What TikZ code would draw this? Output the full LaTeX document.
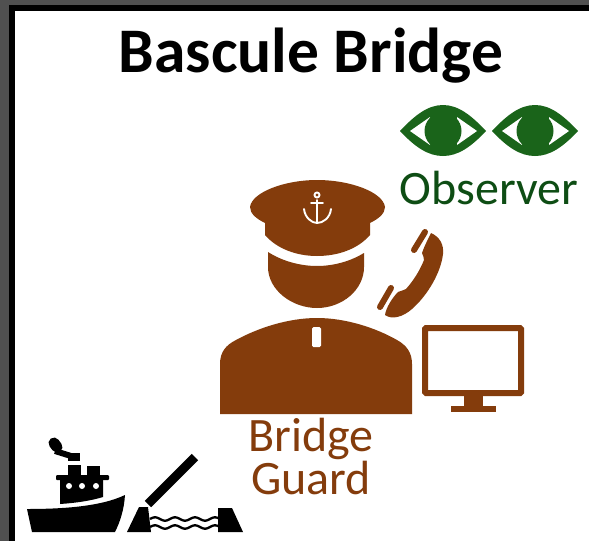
\documentclass[tikz,border=0pt]{standalone}
\usepackage{fontspec}
\setmainfont{Carlito}
\definecolor{guardbrown}{HTML}{843C0C}
\definecolor{eyegreen}{HTML}{1A641A}
\definecolor{obsgreen}{HTML}{0E4D14}
\definecolor{framegray}{HTML}{505050}
\tikzset{
    label text/.style={inner sep=0pt, anchor=base, font=\fontsize{48}{42}\selectfont},
    guard shape/.style={fill=guardbrown, draw=none},
    anchor line/.style={draw=white, line width=1.9pt, line cap=round},
}
\begin{document}
\begin{tikzpicture}[x=1pt,y=-1pt]
    \useasboundingbox (0,0) rectangle (589,541);
    % frame
    \fill[framegray] (0,0) rectangle (589,541);
    \fill[black] (9,5) rectangle (589,541);
    \fill[white] (15,11) rectangle (589,541);
    % texts
    \node[label text, font=\fontsize{63.5}{63.5}\selectfont\bfseries] (title) at (311,72) {Bascule Bridge};
    \node[label text, text=obsgreen] (observer) at (489,204) {Observer};
    \node[label text, text=guardbrown, align=center, anchor=north] (guard) at (311,418) {Bridge\\[1pt]Guard};
    % eyes
    \foreach \dx in {0,92} {
        \begin{scope}[xshift=\dx]
            \fill[eyegreen] (400,131) .. controls (415,115) and (428,105) .. (443,105) .. controls (458,105) and (471,115) .. (486,131) .. controls (471,147) and (458,156) .. (443,156) .. controls (428,156) and (415,147) .. (400,131) -- cycle;
            \fill[white] (410,131) -- (430,117) -- (430,145) -- cycle;
            \fill[white] (477,131) -- (457,117) -- (457,145) -- cycle;
            \fill[eyegreen] (443,131) circle (18.5);
        \end{scope}
    }
    % cap
    \fill[guard shape] (250,207) .. controls (252,192) and (285,180) .. (317,180) .. controls (350,180) and (383,192) .. (385,207) .. controls (385,214) and (378,219) .. (370,223) -- (370,235) .. controls (358,249) and (338,256) .. (317,256) .. controls (297,256) and (277,249) .. (265,235) -- (265,223) .. controls (257,219) and (250,214) .. (250,207) -- cycle;
    % anchor
    \draw[anchor line] (317,200) -- (317,222);
    \draw[anchor line] (304,209) .. controls (305,218) and (312,223) .. (317,223) .. controls (323,223) and (330,218) .. (331,209);
    \draw[anchor line] (311,203) -- (323,203);
    \draw[anchor line] (317,195) circle (2.5);
    % face
    \fill[guard shape] (268,252) .. controls (282,261) and (300,266) .. (317,266) .. controls (334,266) and (351,261) .. (364,253) -- (364,267) .. controls (364,290) and (342,308) .. (317,308) .. controls (292,308) and (268,290) .. (268,267) -- cycle;
    % body
    \fill[guard shape] (220,414) -- (220,364) .. controls (220,352) and (226,345) .. (236,340) .. controls (258,328) and (288,318) .. (317,318) .. controls (346,318) and (376,328) .. (397,340) .. controls (406,345) and (412,352) .. (412,364) -- (412,414) -- cycle;
    \fill[white, rounded corners=1.5pt] (312,327) rectangle (321,347);
    % phone
    \draw[guardbrown, line width=6pt, line cap=round] (425,232) -- (414,250);
    \draw[guardbrown, line width=6pt, line cap=round] (391,288) -- (380,307);
    \fill[guard shape] (431,233) .. controls (440,237) and (444,245) .. (443,254) .. controls (441,272) and (428,295) .. (412,309) .. controls (403,317) and (392,320) .. (385,315) .. controls (386,308) and (392,298) .. (398,292) .. controls (401,290) and (404,291) .. (406,289) .. controls (414,280) and (420,270) .. (424,260) .. controls (425,257) and (422,256) .. (422,253) .. controls (424,247) and (428,239) .. (431,233) -- cycle;
    % monitor
    \draw[guardbrown, line width=6pt, rounded corners=1pt] (425,328) rectangle (521,393);
    \fill[guard shape] (464,396) rectangle (483,407);
    \fill[guard shape] (451,406) rectangle (496,412);
    % ship
    \fill[black] (27,509) .. controls (60,509) and (100,507) .. (125,495) .. controls (124,510) and (120,522) .. (115,532) -- (32,532) -- cycle;
    \fill[black] (60,480) -- (103,480) -- (103,497) .. controls (90,501) and (75,503) .. (60,504) -- cycle;
    \fill[black, rounded corners=1pt] (56,475) rectangle (109,480);
    \fill[black] (68,465) rectangle (81,476);
    \fill[black] (87,466) rectangle (100,476);
    \fill[black] (68,453) rectangle (80,461);
    \draw[black, line width=11pt, line cap=round] (54,443) -- (57,447);
    \draw[black, line width=6pt] (55,451) -- (71,456);
    \foreach \wx in {69,82,96} {
        \fill[white] (\wx,486) circle (3);
    }
    % bridge
    \fill[black] (127,532) -- (139,507) -- (148,507) -- (151,532) -- cycle;
    \fill[black] (218,508) -- (232,508) -- (243,532) -- (218,532) -- cycle;
    \draw[black, line width=9pt] (148,504) -- (195,457);
    \foreach \wy in {519,527} {
        \draw[domain=150:219, smooth, variable=\x, black, line width=2.3pt, samples=50] plot ({\x}, {\wy+1.7*sin(18*\x)});
    }
\end{tikzpicture}
\end{document}
